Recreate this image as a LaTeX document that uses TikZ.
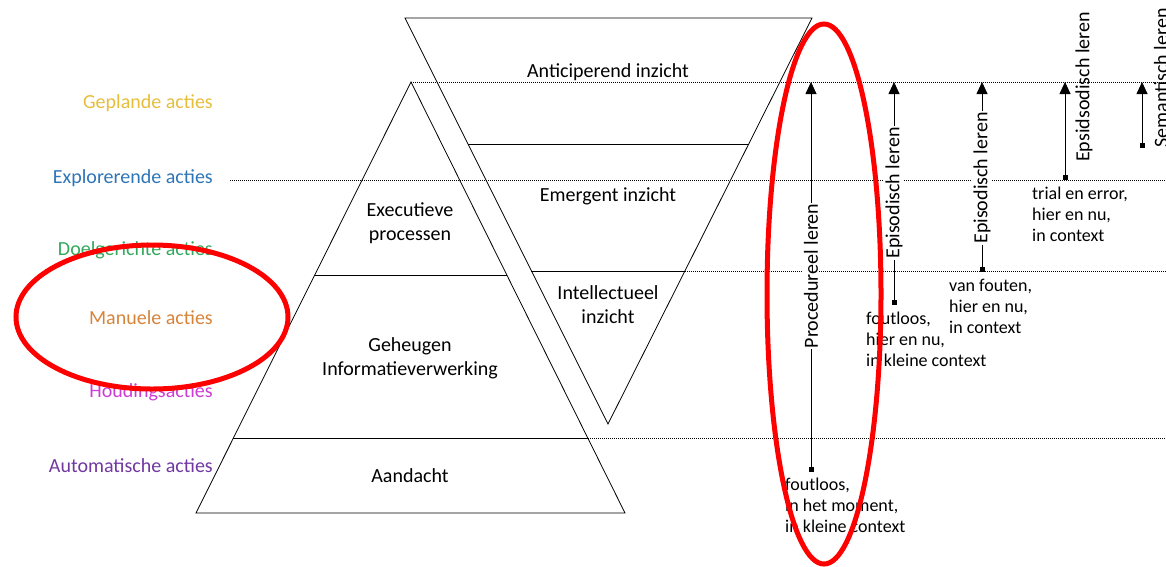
\documentclass[tikz,border=0pt]{standalone}
\usepackage{fontspec}
\setmainfont{Carlito}
\usetikzlibrary{arrows.meta}

\definecolor{gepland}{RGB}{230,190,60}
\definecolor{explorerend}{RGB}{46,117,182}
\definecolor{doelgericht}{RGB}{52,168,92}
\definecolor{manueel}{RGB}{214,132,58}
\definecolor{houding}{RGB}{204,60,214}
\definecolor{automatisch}{RGB}{112,56,160}

\begin{document}
\begin{tikzpicture}[x=1pt,y=-1pt,
    laag/.style={font=\fontsize{20}{24}\selectfont, anchor=east, inner sep=0pt},
    vak/.style={font=\fontsize{20}{24}\selectfont, align=center},
    stippel/.style={dash pattern=on 1pt off 1pt, line width=0.6pt},
    leer/.style={{Square[length=5pt,width=5pt]}-{Triangle[length=12pt,width=11pt]}, line width=0.8pt},
    leerlabel/.style={font=\fontsize{20}{24}\selectfont, rotate=90, fill=white, inner sep=1pt},
    uitleg/.style={font=\fontsize{18}{21}\selectfont, align=left, anchor=north west, inner sep=0pt},
    markering/.style={draw=red, line width=5pt}]
    \useasboundingbox (0,0) rectangle (1166,566);

    % Stippellijnen tussen de niveaus
    \draw[stippel] (411,82) -- (1166,82);
    \draw[stippel] (230,180) -- (1166,180);
    \draw[stippel] (685,271) -- (1166,271);
    \draw[stippel] (588,438) -- (1166,438);

    % Piramide
    \draw[line width=0.8pt] (411,82) -- (625,513) -- (196,513) -- cycle;
    \draw[line width=0.8pt] (315,275) -- (507,275);
    \draw[line width=0.8pt] (233,438) -- (588,438);
    \node[vak] (exec) at (410,223) {Executieve\\processen};
    \node[vak] (geheugen) at (410,358) {Geheugen\\Informatieverwerking};
    \node[vak] (aandacht) at (410,476) {Aandacht};

    % Omgekeerde piramide
    \draw[line width=0.8pt] (405,18) -- (812,18) -- (608,424) -- cycle;
    \draw[line width=0.8pt] (468,144) -- (748,144);
    \draw[line width=0.8pt] (531,271) -- (685,271);
    \node[vak] (anticip) at (608,72) {Anticiperend inzicht};
    \node[vak] (emergent) at (608,196) {Emergent inzicht};
    \node[vak] (intellect) at (608,305) {Intellectueel\\inzicht};

    % Acties links
    \node[laag, text=gepland] (geplande) at (213,103) {Geplande acties};
    \node[laag, text=explorerend] (explor) at (213,178) {Explorerende acties};
    \node[laag, text=doelgericht] (doel) at (213,250) {Doelgerichte acties};
    \node[laag, text=manueel] (manuele) at (213,318) {Manuele acties};
    \node[laag, text=houding] (houd) at (213,392) {Houdingsacties};
    \node[laag, text=automatisch] (auto) at (213,466) {Automatische acties};

    % Leerpijlen
    \coordinate (proc0) at (811,472);
    \coordinate (proc1) at (811,82);
    \draw[leer] (proc0) -- (proc1);
    \node[leerlabel] (proclab) at (811,276) {Procedureel leren};

    \coordinate (epiA0) at (894,305);
    \coordinate (epiA1) at (894,82);
    \draw[leer] (epiA0) -- (epiA1);
    \node[leerlabel] (epiAlab) at (894,193) {Episodisch leren};

    \coordinate (epiB0) at (982,272);
    \coordinate (epiB1) at (982,82);
    \draw[leer] (epiB0) -- (epiB1);
    \node[leerlabel] (epiBlab) at (982,178) {Episodisch leren};

    \coordinate (epiC0) at (1065,180);
    \coordinate (epiC1) at (1065,82);
    \draw[leer] (epiC0) -- (epiC1);
    \node[leerlabel, fill=none] (epiClab) at (1084,87) {Epsidsodisch leren};

    \coordinate (sem0) at (1142,148);
    \coordinate (sem1) at (1142,82);
    \draw[leer] (sem0) -- (sem1);
    \node[leerlabel, fill=none] (semlab) at (1161,78) {Semantisch leren};

    % Toelichting bij de pijlen
    \node[uitleg] (procuit) at (785,478) {foutloos,\\in het moment,\\in kleine context};
    \node[uitleg] (epiAuit) at (866,312) {foutloos,\\hier en nu,\\in kleine context};
    \node[uitleg] (epiBuit) at (949,279) {van fouten,\\hier en nu,\\in context};
    \node[uitleg] (epiCuit) at (1032,187) {trial en error,\\hier en nu,\\in context};

    % Rode markeringen
    \draw[markering] (152,317) ellipse [x radius=136, y radius=72];
    \draw[markering] (824,294) ellipse [x radius=57, y radius=270];
\end{tikzpicture}
\end{document}
